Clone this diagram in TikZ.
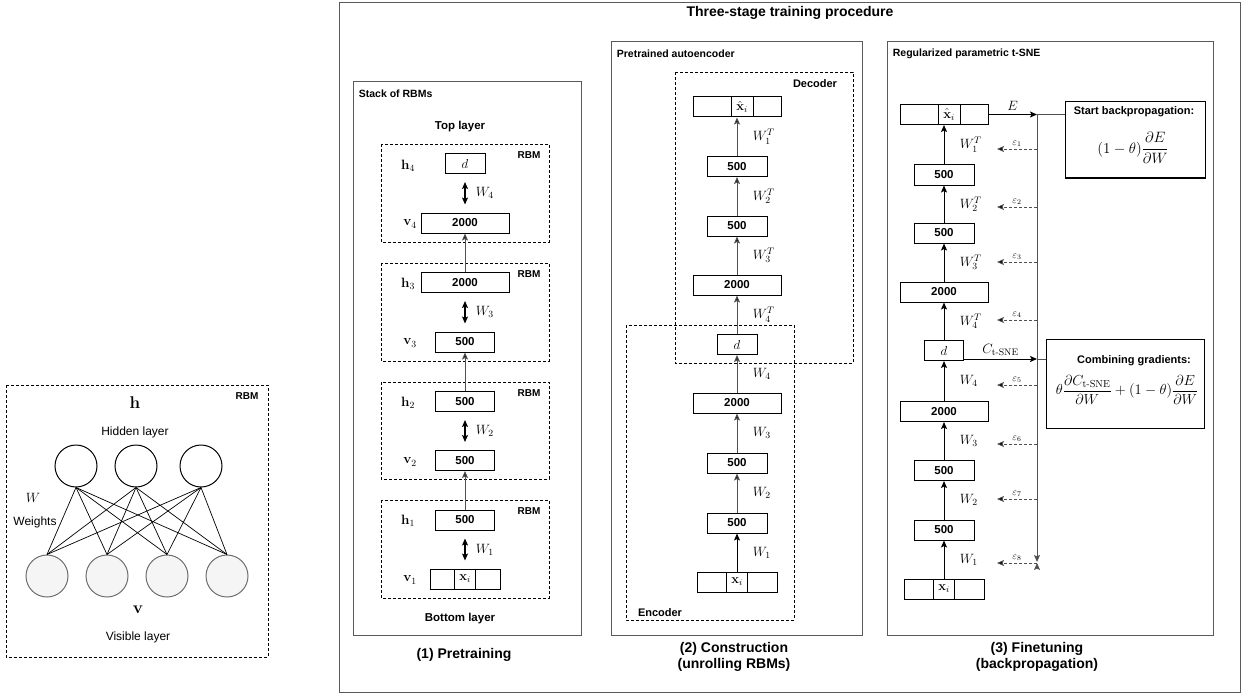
\RequirePackage{fix-cm}
\documentclass[tikz,border=0pt]{standalone}
\usepackage{amsmath,amssymb}
\usepackage[no-math]{fontspec}
\setmainfont{Liberation Sans}
\usepackage{tikz}
\usetikzlibrary{arrows.meta}
\newcommand\fs[1]{\fontsize{#1}{#1}\selectfont}
\newcommand\tsne{\mathrm{t\mathchar"2D SNE}}
\definecolor{frame_gray}{RGB}{90,90,90}
\definecolor{unit_gray}{RGB}{245,245,245}
\definecolor{edge_gray}{RGB}{110,110,110}
\definecolor{arrow_gray}{RGB}{80,80,80}
\begin{document}
\begin{tikzpicture}[x=1pt,y=-1pt,>={Stealth[length=7pt,width=6pt,inset=1.5pt]},line width=1pt]
    \tikzstyle{panelframe}=[draw=frame_gray,line width=1pt]
    \tikzstyle{rbmbox}=[draw=black,line width=0.8pt,dash pattern=on 3pt off 2pt]
    \tikzstyle{layerunit}=[draw,rectangle,inner sep=0pt,minimum height=20pt,font=\bfseries\fs{11.5}]
    \tikzstyle{layerwide}=[style=layerunit,minimum width=88pt]
    \tikzstyle{layermid}=[style=layerunit,minimum width=60pt]
    \tikzstyle{layerd}=[style=layerunit,minimum width=40pt,font=\fs{13}]
    \tikzstyle{layerin}=[style=layerunit,minimum width=80pt]
    \tikzstyle{layerbar}=[style=layerunit,minimum width=21pt,font=\fs{13}]
    \tikzstyle{paneltitle}=[anchor=west,font=\bfseries\fs{10.5}]
    \tikzstyle{rbmtag}=[font=\bfseries\fs{10}]
    \tikzstyle{stagecap}=[align=center,font=\bfseries\fs{14}]
    \tikzstyle{mlabel}=[font=\fs{13.5}]
    \tikzstyle{hunit}=[draw,circle,minimum size=42pt,inner sep=0pt]
    \tikzstyle{vunit}=[style=hunit,fill=unit_gray,draw=edge_gray]
    \tikzstyle{epsarrow}=[->,draw=arrow_gray,dash pattern=on 3pt off 2pt,line width=0.8pt]
    \tikzstyle{epslab}=[above,inner sep=2pt,font=\fs{10}]

    \useasboundingbox (0,0) rectangle (1246,695);

    % single RBM
    \draw[rbmbox] (6,385) rectangle (268,657);
    \node[rbmtag] (rbm0) at (247,396) {RBM};
    \node[font=\fs{17}] (hlab) at (135,403) {$\mathbf{h}$};
    \node[font=\fs{12}] (hidlab) at (135,432) {Hidden layer};
    \node[hunit] (hA) at (76,466)  {};
    \node[hunit] (hB) at (136,466) {};
    \node[hunit] (hC) at (201,466) {};
    \node[vunit] (vA) at (47,576)  {};
    \node[vunit] (vB) at (107,576) {};
    \node[vunit] (vC) at (167,576) {};
    \node[vunit] (vD) at (227,576) {};
    \path[line width=0.7pt]
     (hA.south) edge (vA.north) (hA.south) edge (vB.north) (hA.south) edge (vC.north) (hA.south) edge (vD.north)
     (hB.south) edge (vA.north) (hB.south) edge (vB.north) (hB.south) edge (vC.north) (hB.south) edge (vD.north)
     (hC.south) edge (vA.north) (hC.south) edge (vB.north) (hC.south) edge (vC.north) (hC.south) edge (vD.north);
    \node[mlabel] (wlab) at (33,498) {$W$};
    \node[font=\fs{12}] (wtext) at (35,522) {Weights};
    \node[font=\fs{17}] (vlab) at (138,610) {$\mathbf{v}$};
    \node[font=\fs{12}] (vislab) at (138,637) {Visible layer};

    % three stages
    \draw[panelframe] (339,3) rectangle (1240,692);
    \node[font=\bfseries\fs{14}] (maintitle) at (790,13) {Three-stage training procedure};

    % (1) pretraining
    \draw[panelframe] (353,82) rectangle (581,635);
    \node[paneltitle] (st1) at (355,94) {Stack of RBMs};
    \node[font=\bfseries\fs{11.5}] (toplab) at (460,127) {Top layer};
    \node[font=\bfseries\fs{11.5}] (botlab) at (460,619) {Bottom layer};
    \draw[rbmbox] (381,144) rectangle (549,242);
    \draw[rbmbox] (381,263) rectangle (549,361);
    \draw[rbmbox] (381,382) rectangle (549,479);
    \draw[rbmbox] (381,500) rectangle (549,598);
    \node[rbmtag] (rbm4) at (529,155) {RBM};
    \node[rbmtag] (rbm3) at (529,274) {RBM};
    \node[rbmtag] (rbm2) at (529,393) {RBM};
    \node[rbmtag] (rbm1) at (529,511) {RBM};

    \node[layerd]    (h4) at (465,163.5) {$d$};
    \node[layerwide] (v4) at (465,223)   {2000};
    \node[layerwide] (h3) at (465,282.5) {2000};
    \node[layermid,minimum width=59pt] (v3) at (465,342) {500};
    \node[layermid,minimum width=59pt] (h2) at (465,401.5) {500};
    \node[layermid,minimum width=59pt] (v2) at (465,460.5) {500};
    \node[layermid,minimum width=59pt] (h1) at (465,520)   {500};
    \node[layerin,minimum width=70pt]  (v1) at (465,579)   {};
    \node[layerbar]  (v1b) at (465,579) {$\mathbf{x}_i$};

    \node[mlabel] at (408,166) {$\mathbf{h}_4$};
    \node[mlabel] at (410,224) {$\mathbf{v}_4$};
    \node[mlabel] at (408,284) {$\mathbf{h}_3$};
    \node[mlabel] at (410,343) {$\mathbf{v}_3$};
    \node[mlabel] at (408,403) {$\mathbf{h}_2$};
    \node[mlabel] at (410,462) {$\mathbf{v}_2$};
    \node[mlabel] at (408,521) {$\mathbf{h}_1$};
    \node[mlabel] at (410,580) {$\mathbf{v}_1$};

    \path[<->,line width=1.1pt]
     ([yshift=-8pt]h4.south) edge node[right=7pt,mlabel]{$W_4$} ([yshift=8pt]v4.north)
     ([yshift=-8pt]h3.south) edge node[right=7pt,mlabel]{$W_3$} ([yshift=8pt]v3.north)
     ([yshift=-8pt]h2.south) edge node[right=7pt,mlabel]{$W_2$} ([yshift=8pt]v2.north)
     ([yshift=-8pt]h1.south) edge node[right=7pt,mlabel]{$W_1$} ([yshift=8pt]v1.north);
    \path[->,draw=arrow_gray]
     (h3) edge (v4)
     (h2) edge (v3)
     (h1) edge (v2);
    \node[stagecap] (cap1) at (464,655) {(1) Pretraining};

    % (2) construction
    \draw[panelframe] (611,42) rectangle (862,635);
    \node[paneltitle] (st2) at (613,54) {Pretrained autoencoder};
    \draw[rbmbox] (675,72) rectangle (853,363);
    \draw[rbmbox] (626,325) rectangle (794,620);
    \node[rbmtag,font=\bfseries\fs{11}] (declab) at (815,84) {Decoder};
    \node[rbmtag,font=\bfseries\fs{11}] (enclab) at (660,613) {Encoder};

    \node[layerin]   (a0) at (737,582)   {};
    \node[layerbar]  (a0b) at (737,582)  {$\mathbf{x}_i$};
    \node[layermid]  (a1) at (737,523)   {500};
    \node[layermid]  (a2) at (737,463)   {500};
    \node[layerwide] (a3) at (737,403)   {2000};
    \node[layerd]    (a4) at (737,344.5) {$d$};
    \node[layerwide] (a5) at (737,285)   {2000};
    \node[layermid]  (a6) at (737,226)   {500};
    \node[layermid]  (a7) at (737,166.5) {500};
    \node[layerwide] (a8) at (737,107)   {};
    \node[layerbar,minimum width=22pt] (a8b) at (742,107) {$\hat{\mathbf{x}}_i$};

    \path[->]
     (a0) edge node[right=12pt,mlabel]{$W_1$} (a1);
    \path[->,draw=arrow_gray]
     (a1) edge node[right=12pt,mlabel]{$W_2$} (a2)
     (a2) edge node[right=12pt,mlabel]{$W_3$} (a3)
     (a3) edge node[right=12pt,mlabel]{$W_4$} (a4)
     (a4) edge node[right=12pt,mlabel]{$W_4^T$} (a5)
     (a5) edge node[right=12pt,mlabel]{$W_3^T$} (a6)
     (a6) edge node[right=12pt,mlabel]{$W_2^T$} (a7)
     (a7) edge node[right=12pt,mlabel]{$W_1^T$} (a8);
    \node[stagecap] (cap2) at (734,656.5) {(2) Construction\\[2pt](unrolling RBMs)};

    % (3) finetuning
    \draw[panelframe] (887,42) rectangle (1213,635);
    \node[paneltitle] (st3) at (889,54) {Regularized parametric t-SNE};

    \node[layerin]   (f0) at (944,589)   {};
    \node[layerbar]  (f0b) at (944,589)  {$\mathbf{x}_i$};
    \node[layermid]  (f1) at (944,530)   {500};
    \node[layermid]  (f2) at (944,470.5) {500};
    \node[layerwide] (f3) at (944,411.5) {2000};
    \node[layerd,minimum width=39pt] (f4) at (944,350.5) {$d$};
    \node[layerwide] (f5) at (944,292)   {2000};
    \node[layermid]  (f6) at (944,233)   {500};
    \node[layermid]  (f7) at (944,175)   {500};
    \node[layerwide] (f8) at (944,114.5) {};
    \node[layerbar,minimum width=22pt] (f8b) at (949,114.5) {$\hat{\mathbf{x}}_i$};

    \path[->]
     (f0) edge node[right=12pt,mlabel]{$W_1$} (f1)
     (f1) edge node[right=12pt,mlabel]{$W_2$} (f2)
     (f2) edge node[right=12pt,mlabel]{$W_3$} (f3)
     (f3) edge node[right=12pt,mlabel]{$W_4$} (f4)
     (f4) edge node[right=12pt,mlabel]{$W_4^T$} (f5)
     (f5) edge node[right=12pt,mlabel]{$W_3^T$} (f6)
     (f6) edge node[right=12pt,mlabel]{$W_2^T$} (f7)
     (f7) edge node[right=12pt,mlabel]{$W_1^T$} (f8);

    \node[draw,minimum width=140pt,minimum height=76pt] (startbp) at (1135,140) {};
    \node[font=\bfseries\fs{11}] (startlab) at (1134,112) {Start backpropagation:};
    \node[font=\fs{15}] (startfor) at (1133,148) {$\displaystyle(1-\theta)\frac{\partial E}{\partial W}$};
    \node[draw,minimum width=158pt,minimum height=89pt] (combine) at (1125,383.5) {};
    \node[font=\bfseries\fs{11}] (comblab) at (1134,361) {Combining gradients:};
    \node[font=\fs{14.5}] (combfor) at (1127,390) {$\displaystyle\theta\frac{\partial C_{\tsne}}{\partial W}+(1-\theta)\frac{\partial E}{\partial W}$};

    \coordinate (jE) at (1037,114.5);
    \coordinate (jC) at (1037,359);
    \coordinate (jEnd) at (1037,562);
    \coordinate (dout) at (964,359);
    \path[->]
     (f8) edge node[above,mlabel]{$E$} (jE)
     (dout) edge node[above,mlabel]{$C_{\tsne}$} (jC);
    \path[draw=arrow_gray]
     (jE) edge (jE -| startbp.west)
     (jC) edge (jC -| combine.west);
    \draw[->,draw=arrow_gray] (jE) -- (jEnd);

    \coordinate (e1) at (997,149);
    \coordinate (e2) at (997,207);
    \coordinate (e3) at (997,262);
    \coordinate (e4) at (997,320);
    \coordinate (e5) at (997,385);
    \coordinate (e6) at (997,444);
    \coordinate (e7) at (997,499);
    \coordinate (e8) at (997,563);
    \path[epsarrow]
     (e1 -| jE) edge node[epslab]{$\varepsilon_1$} (e1)
     (e2 -| jE) edge node[epslab]{$\varepsilon_2$} (e2)
     (e3 -| jE) edge node[epslab]{$\varepsilon_3$} (e3)
     (e4 -| jE) edge node[epslab]{$\varepsilon_4$} (e4)
     (e5 -| jE) edge node[epslab]{$\varepsilon_5$} (e5)
     (e6 -| jE) edge node[epslab]{$\varepsilon_6$} (e6)
     (e7 -| jE) edge node[epslab]{$\varepsilon_7$} (e7)
     (e8 -| jE) edge node[epslab]{$\varepsilon_8$} (e8);
    \node[stagecap] (cap3) at (1037,656.5) {(3) Finetuning\\[2pt](backpropagation)};
\end{tikzpicture}
\end{document}
